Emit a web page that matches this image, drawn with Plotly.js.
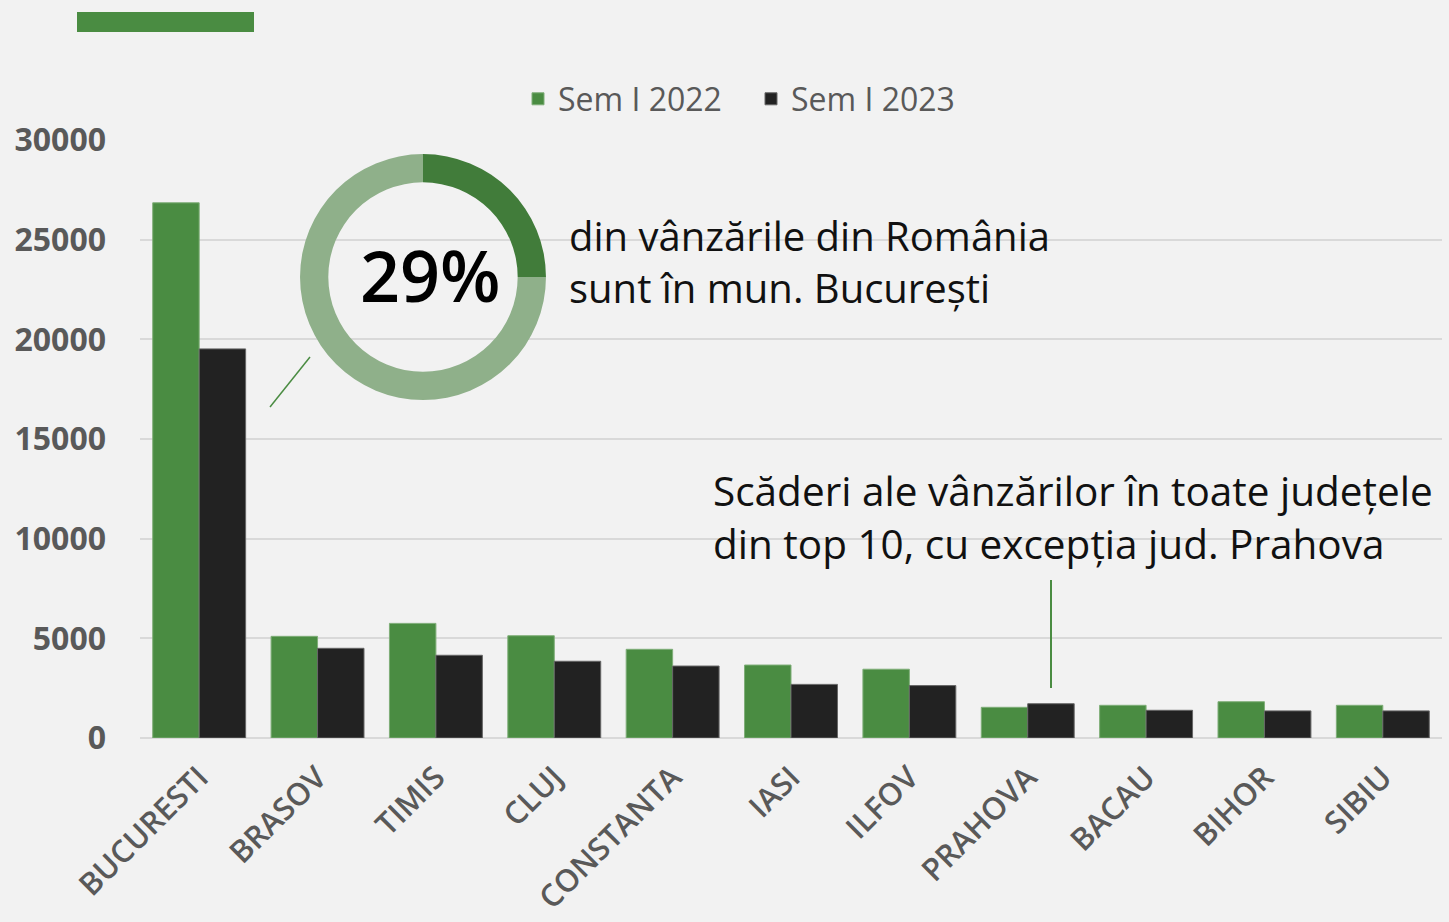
<!DOCTYPE html>
<html><head><meta charset="utf-8">
<script src="https://cdn.plot.ly/plotly-3.0.1.min.js"></script>
<style>html,body{margin:0;padding:0;background:#f2f2f2;}#c{width:1449px;height:922px;}</style>
</head><body><div id="c"></div>
<script>
const categories = ["BUCURESTI","BRASOV","TIMIS","CLUJ","CONSTANTA","IASI","ILFOV","PRAHOVA","BACAU","BIHOR","SIBIU"];
const seriesNames = ["Sem I 2022","Sem I 2023"];
const sem2022 = [26850, 5100, 5750, 5130, 4450, 3660, 3450, 1540, 1640, 1820, 1640];
const sem2023 = [19520, 4500, 4150, 3850, 3610, 2690, 2630, 1720, 1390, 1360, 1360];
const shareLabels = ["București","Restul țării"];
const shareValues = [25, 75];
const yTicks = [0, 5000, 10000, 15000, 20000, 25000, 30000];

const FONT = '"Open Sans", "Noto Sans", sans-serif';
const GREEN = '#4a8c42', BLACK = '#222222', GRAY = '#595959';

const traces = [
  {type:'bar', name:seriesNames[0], x:categories, y:sem2022, marker:{color:GREEN, line:{color:'#7fae78', width:1}}, hoverinfo:'skip'},
  {type:'bar', name:seriesNames[1], x:categories, y:sem2023, marker:{color:BLACK, line:{color:'#666', width:1}}, hoverinfo:'skip'},
  {type:'pie', labels:shareLabels, values:shareValues, hole:0.77, sort:false, direction:'clockwise', rotation:0,
   marker:{colors:['#417c3a','#8fb08a'], line:{width:0}}, textinfo:'none', hoverinfo:'skip', showlegend:false,
   domain:{x:[0.1229,0.3118], y:[0.565,0.9766]}}
];

const layout = {
  width:1449, height:922,
  paper_bgcolor:'#f2f2f2', plot_bgcolor:'rgba(0,0,0,0)',
  margin:{l:140, r:7, t:140, b:184},
  font:{family:FONT, color:GRAY},
  barmode:'group', bargap:0.215, bargroupgap:0,
  showlegend:true,
  legend:{orientation:'h', x:(518-140)/1302, xanchor:'left', y:(738-99)/598, yanchor:'middle', yref:'paper',
          font:{size:32, color:GRAY, family:FONT}, bgcolor:'rgba(0,0,0,0)', traceorder:'normal', itemwidth:30,
          entrywidth:188, entrywidthmode:'pixels'},
  xaxis:{type:'category', tickangle:-45, tickfont:{size:31, color:GRAY, family:FONT, weight:600}, showgrid:false, ticks:'', showline:false, zeroline:false, ticklabelstandoff:14},
  yaxis:{range:[0,30000], tickvals:yTicks, ticktext:yTicks.map(String), tickfont:{size:32, color:GRAY, family:FONT, weight:700},
         gridcolor:'#d9d9d9', gridwidth:2, zeroline:true, zerolinecolor:'#d9d9d9', zerolinewidth:2, ticks:'', ticklabelstandoff:33, showline:false},
  shapes:[
    {type:'rect', xref:'paper', yref:'paper', x0:(77-140)/1302, x1:(254-140)/1302, y0:(738-32)/598, y1:(738-12)/598, fillcolor:GREEN, line:{width:0}},
    {type:'line', xref:'paper', yref:'paper', x0:(270-140)/1302, x1:(310-140)/1302, y0:(738-407)/598, y1:(738-357)/598, line:{color:GREEN, width:1.5}},
    {type:'line', xref:'paper', yref:'paper', x0:(1051-140)/1302, x1:(1051-140)/1302, y0:(738-688)/598, y1:(738-580)/598, line:{color:GREEN, width:2}}
  ],
  annotations:[
    {xref:'paper', yref:'paper', x:(430-140)/1302, y:(738-275)/598, text:'29%', showarrow:false, font:{size:70, color:'#000', family:FONT, weight:600}, xanchor:'center', yanchor:'middle'},
    {xref:'paper', yref:'paper', x:(567-140)/1302, y:(738-261)/598, text:'din vânzările din România<br>sunt în mun. București', showarrow:false, align:'left', xanchor:'left', yanchor:'middle', font:{size:40, color:'#111', family:FONT}},
    {xref:'paper', yref:'paper', x:(711-140)/1302, y:(738-517)/598, text:'Scăderi ale vânzărilor în toate județele<br>din top 10, cu excepția jud. Prahova', showarrow:false, align:'left', xanchor:'left', yanchor:'middle', font:{size:40.5, color:'#111', family:FONT}}
  ]
};
Plotly.newPlot('c', traces, layout, {displayModeBar:false, staticPlot:true});
</script></body></html>
